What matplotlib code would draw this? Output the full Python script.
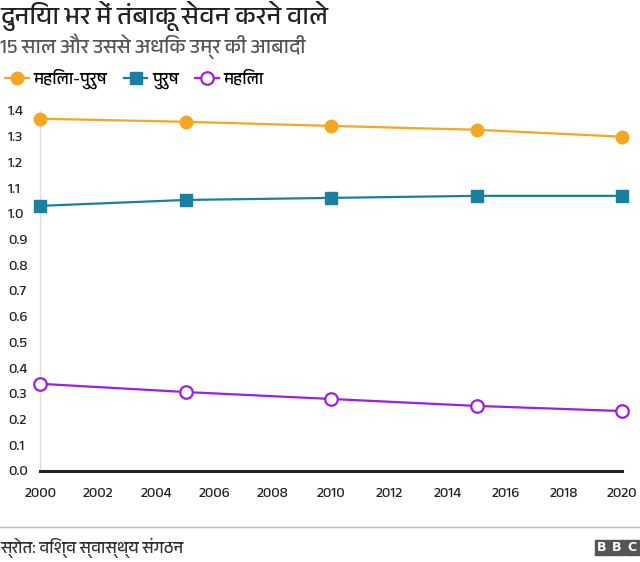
import matplotlib
matplotlib.use("Agg")
import matplotlib.pyplot as plt
from matplotlib import font_manager
from matplotlib.patches import Rectangle

# Devanagari font, if any is there
deva = [f.name for f in font_manager.fontManager.ttflist if "Devanagari" in f.name]
plt.rcParams["font.family"] = deva[:1] + ["DejaVu Sans"]

years = [2000, 2005, 2010, 2015, 2020]
both = [1.37, 1.358, 1.342, 1.327, 1.30]
men = [1.031, 1.054, 1.062, 1.070, 1.070]
women = [0.339, 0.307, 0.280, 0.253, 0.233]
labels = ["महिला-पुरुष", "पुरुष", "महिला"]

title = "दुनिया भर में तंबाकू सेवन करने वाले"
subtitle = "15 साल और उससे अधिक उम्र की आबादी"
source = "स्रोत: विश्व स्वास्थ्य संगठन"

fig = plt.figure(figsize=(6.4, 5.62), dpi=100)
ax = fig.add_axes([0.0625, 0.162, 0.9095, 0.6405])

ax.plot(years, both, color="#f5a623", lw=1.6, marker="o", ms=9, clip_on=False, label=labels[0], zorder=3)
ax.plot(years, men, color="#1a7fa0", lw=1.6, marker="s", ms=9, clip_on=False, label=labels[1], zorder=3)
ax.plot(years, women, color="#9d1fe0", lw=1.6, marker="o", ms=9, mfc="white", mew=1.6,
        clip_on=False, label=labels[2], zorder=3)

ax.set_xlim(2000, 2020)
ax.set_ylim(0, 1.4)
ax.set_xticks(range(2000, 2021, 2))
ax.set_yticks([i / 10 for i in range(15)])
ax.set_yticklabels(["%.1f" % (i / 10) for i in range(15)])
for lb in ax.get_yticklabels():
    lb.set_horizontalalignment("left")
ax.tick_params(axis="y", length=0, pad=23, labelsize=10.5, colors="#222222")
ax.tick_params(axis="x", length=0, pad=12, labelsize=10.5, colors="#222222")

for s in ["top", "right"]:
    ax.spines[s].set_visible(False)
ax.spines["left"].set_color("#dddddd")
ax.spines["left"].set_linewidth(1)
ax.spines["bottom"].set_color("#222222")
ax.spines["bottom"].set_linewidth(2.2)

fig.text(0.0, 0.998, title, fontsize=18.5, fontweight="bold", va="top", ha="left", color="#222222")
fig.text(0.0, 0.94, subtitle, fontsize=14.5, va="top", ha="left", color="#555555")

leg = fig.legend(loc="upper left", bbox_to_anchor=(-0.015, 0.905), ncol=3, frameon=False,
                 fontsize=12, handlelength=1.4, handletextpad=0.3, columnspacing=1.0)

fig.add_artist(plt.Line2D([0, 1], [0.062, 0.062], color="#bbbbbb", lw=1, transform=fig.transFigure))
fig.text(0.0, 0.025, source, fontsize=12, va="center", ha="left", color="#333333")

# BBC logo
for i, ch in enumerate("BBC"):
    x0 = (595 + i * 15) / 640
    fig.add_artist(Rectangle((x0, 0.013), 14 / 640, 0.026, color="#555555", transform=fig.transFigure))
    fig.text(x0 + 7 / 640, 0.026, ch, fontsize=9, fontweight="bold", color="white",
             ha="center", va="center", family="DejaVu Sans")

fig.savefig("out.png", dpi=100)
